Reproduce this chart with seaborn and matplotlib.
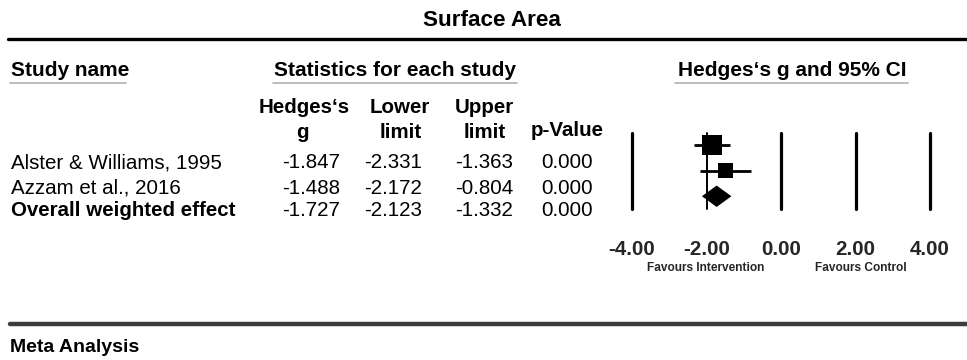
import numpy as np
import pandas as pd
import matplotlib
matplotlib.use('Agg')
import matplotlib.pyplot as plt
from matplotlib.lines import Line2D
import seaborn as sns

# ---------------- data ----------------
studies = ['Alster & Williams, 1995', 'Azzam et al., 2016']
overall_label = 'Overall weighted effect'
hedges_g = [-1.847, -1.488]
lower = [-2.331, -2.172]
upper = [-1.363, -0.804]
p_values = [0.000, 0.000]
rel_weight = [66.7, 33.3]

overall_g = -1.727
overall_lower = -2.123
overall_upper = -1.332
overall_p = 0.000

x_ticks = [-4, -2, 0, 2, 4]
tick_labels = ['-4.00', '-2.00', '0.00', '2.00', '4.00']

W, H = 967, 360

sns.set_theme(style='white')
plt.rcParams['font.family'] = ['Liberation Sans', 'DejaVu Sans']

fig = plt.figure(figsize=(W / 100, H / 100), dpi=100)
fig.patch.set_facecolor('white')


def fx(x):
    return x / W


def fy(y):
    return 1 - y / H


def put(x, y, s, size=14.8, weight='normal', ha='left', **kw):
    fig.text(fx(x), fy(y), s, fontsize=size, fontweight=weight, ha=ha, va='center', color='black', **kw)


def hline(x0, x1, y, lw, color):
    fig.add_artist(Line2D([fx(x0), fx(x1)], [fy(y), fy(y)], lw=lw, color=color, transform=fig.transFigure))


# ---------------- headers ----------------
put(492, 21, 'Surface Area', size=16.2, weight='bold', ha='center')
hline(8, 967, 39, 2.4, 'black')

put(11, 71, 'Study name', size=15, weight='bold')
hline(10, 126, 83, 1.2, '#b0b0b0')
put(395, 71, 'Statistics for each study', size=15, weight='bold', ha='center')
hline(273, 517, 83, 1.2, '#b0b0b0')
put(792, 70, 'Hedges\u2018s g and 95% CI', size=15, weight='bold', ha='center')
hline(675, 908, 83, 1.2, '#b0b0b0')

put(304, 107, 'Hedges\u2018s', weight='bold', ha='center')
put(302, 132, 'g', weight='bold', ha='center')
put(400, 107, 'Lower', weight='bold', ha='center')
put(401, 132, 'limit', weight='bold', ha='center')
put(484, 107, 'Upper', weight='bold', ha='center')
put(485, 132, 'limit', weight='bold', ha='center')
put(567, 130, 'p-Value', weight='bold', ha='center')

# ---------------- table rows ----------------
row_y = [163, 188]
col_x = [340, 422, 513, 593]
for i, name in enumerate(studies):
    put(11, row_y[i], name)
    vals = [hedges_g[i], lower[i], upper[i]]
    for j, v in enumerate(vals):
        put(col_x[j], row_y[i], f'{v:.3f}', ha='right')
    put(col_x[3], row_y[i], f'{p_values[i]:.3f}', ha='right')

put(11, 211, overall_label, weight='bold')
for j, v in enumerate([overall_g, overall_lower, overall_upper]):
    put(col_x[j], 210, f'{v:.3f}', ha='right')
put(col_x[3], 210, f'{overall_p:.3f}', ha='right')

# ---------------- forest plot ----------------
ax_left, ax_right = 632, 930
ax_top, ax_bot = 133, 209
ax = fig.add_axes([fx(ax_left), fy(ax_bot), (ax_right - ax_left) / W, (ax_bot - ax_top) / H])
ax.set_facecolor('none')
ax.set_xlim(-4, 4)
ax.set_ylim(2.5, -0.48)

for t in x_ticks:
    ax.axvline(t, color='black', lw=2.3 if t != -2 else 1.4, zorder=1, clip_on=False)

df = pd.DataFrame({'study': studies, 'g': hedges_g, 'lo': lower, 'hi': upper,
                   'w': rel_weight, 'row': np.arange(len(studies))})
ax.hlines(df['row'], df['lo'], df['hi'], color='black', lw=2.0, zorder=2)
sns.scatterplot(data=df, x='g', y='row', size='w', sizes=(115, 215), marker='s',
                color='black', edgecolor='black', linewidth=0, legend=False, ax=ax, zorder=3)

drow = 2.0
half_h = 0.42
ax.fill([overall_lower, overall_g, overall_upper, overall_g],
        [drow, drow - half_h, drow, drow + half_h], color='black', zorder=3, lw=0)

ax.set_xticks(x_ticks)
ax.set_xticklabels(tick_labels, fontsize=14.8, fontweight='bold')
ax.tick_params(axis='x', length=0, pad=22)
ax.set_yticks([])
ax.set_xlabel('')
ax.set_ylabel('')
for sp in ax.spines.values():
    sp.set_visible(False)

fav_font = ['Liberation Sans Narrow', 'Liberation Sans', 'DejaVu Sans']
fig.text(fx(706), fy(268), 'Favours Intervention', fontsize=8.6, fontweight='bold',
         ha='center', va='center', family=fav_font)
fig.text(fx(861), fy(268), 'Favours Control', fontsize=8.6, fontweight='bold',
         ha='center', va='center', family=fav_font)

# ---------------- footer ----------------
hline(10, 967, 324, 3.2, '#3c3c3c')
put(10, 347, 'Meta Analysis', size=14, weight='bold', family=fav_font)

fig.savefig('out.png', dpi=100, facecolor='white')
